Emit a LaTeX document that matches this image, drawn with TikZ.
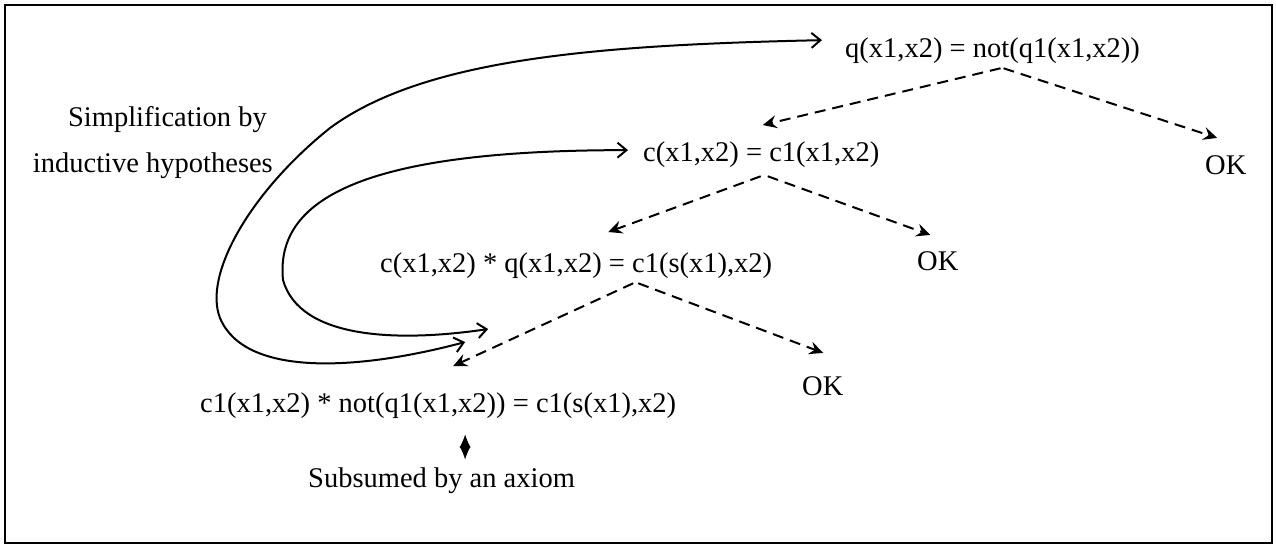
\documentclass[tikz,border=0pt]{standalone}
\usepackage{fontspec}
\setmainfont{Liberation Serif}
\usetikzlibrary{arrows.meta,calc}
\begin{document}
\begin{tikzpicture}[x=1pt,y=-1pt,
  txt/.style={inner sep=0pt, font=\fontsize{28.5}{34}\selectfont},
  dasharr/.style={dash pattern=on 11pt off 7pt, line width=2pt,
    -{Stealth[length=14pt,width=13pt,inset=5pt]}},
  curvarr/.style={line width=2pt,
    {Straight Barb[length=9pt,width=15pt]}-{Straight Barb[length=9pt,width=15pt]}},
  dblarr/.style={line width=1pt,
    {Latex[length=13pt,width=11pt]}-{Latex[length=13pt,width=11pt]}},
  frame/.style={line width=1.8pt}]
\useasboundingbox (0,0) rectangle (1276,547);
\draw[frame] (5,5) rectangle (1272,543);

% nodes
\node[txt, anchor=base west] (q)  at (845,57)  {q(x1,x2) = not(q1(x1,x2))};
\node[txt, anchor=base west] (ok1) at (1205,174) {OK};
\node[txt, anchor=base west] (c)  at (643,161) {c(x1,x2) = c1(x1,x2)};
\node[txt, anchor=base west] (ok2) at (917,270) {OK};
\node[txt, anchor=base west] (cq) at (380,272) {c(x1,x2) * q(x1,x2) = c1(s(x1),x2)};
\node[txt, anchor=base west] (ok3) at (802,395) {OK};
\node[txt, anchor=base west] (b)  at (200,412) {c1(x1,x2) * not(q1(x1,x2)) = c1(s(x1),x2)};
\node[txt, anchor=base west] (s)  at (308,487) {Subsumed by an axiom};
\node[txt, anchor=base east] (l1) at (267,126) {Simplification by};
\node[txt, anchor=base east] (l2) at (273,172) {inductive hypotheses};

% dashed tree arrows
\draw[dasharr] ($(q.south)+(8,5)$)   -- ($(c.north)+(1.5,-16)$);
\draw[dasharr] ($(q.south)+(11,5)$)  -- ($(ok1.north)+(-8.6,-17)$);
\draw[dasharr] ($(c.south)+(-0.5,9)$) -- ($(cq.north)+(32,-20)$);
\draw[dasharr] ($(c.south)+(6.5,9)$) -- ($(ok2.north)+(-7.5,-16)$);
\draw[dasharr] ($(cq.south)+(57,5)$) -- ($(b.north)+(15,-26)$);
\draw[dasharr] ($(cq.south)+(62,5)$) -- ($(ok3.north)+(0.5,-23)$);

% simplification curves
\coordinate (ot) at ($(q.west)+(-23,-10)$);
\coordinate (it) at ($(c.west)+(-15,-4)$);
\coordinate (ob) at ($(b.north)+(27,-50)$);
\coordinate (ib) at ($(b.north)+(50,-63)$);
\draw[curvarr] (ob) .. controls (360,370) and (245,378) .. (220,318)
  .. controls (203,275) and (250,192) .. (330,128)
  .. controls (425,58) and (600,45) .. (ot);
\draw[curvarr] (ib) .. controls (400,342) and (300,340) .. (283,280)
  .. controls (275,200) and (360,150) .. (it);

% subsumption arrow
\draw[dblarr] ($(b.south)+(27,16)$) -- ($(s.north)+(23.5,-7.5)$);
\end{tikzpicture}
\end{document}
